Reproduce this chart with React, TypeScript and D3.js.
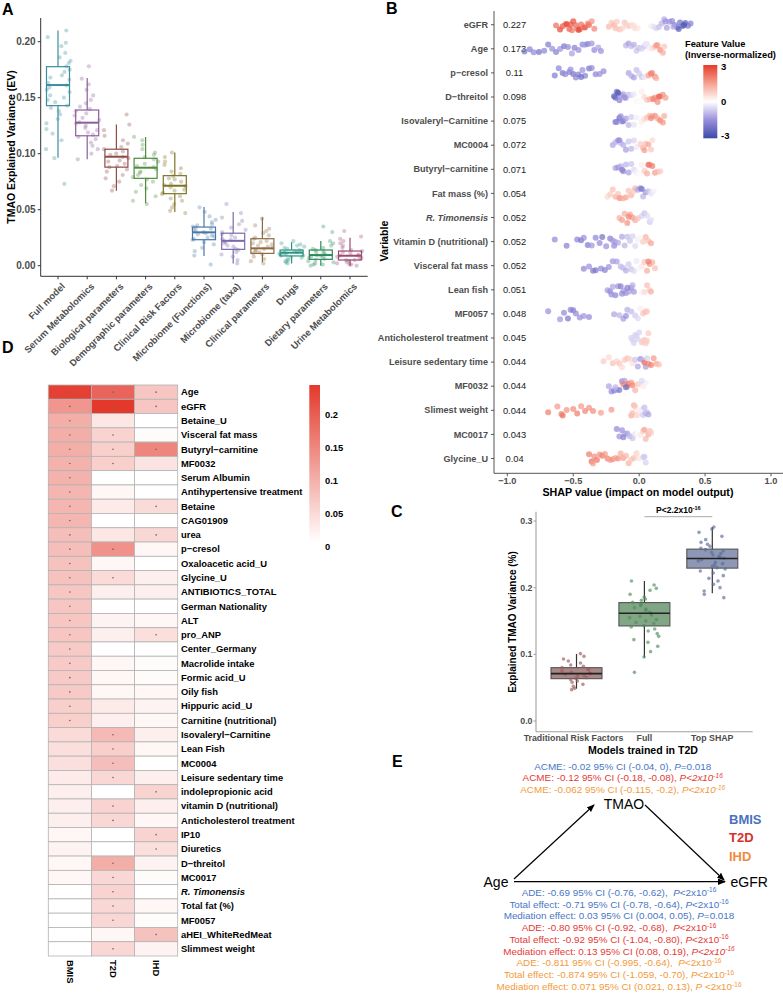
import React from "react";
import * as d3 from "d3";

const FONT = "'Liberation Sans', Arial, Helvetica, sans-serif";
const AXIS_TXT = "#4d4d4d";

// ---------------- Panel A data ----------------
const aCategories = ["Full model", "Serum Metabolomics", "Biological parameters", "Demographic parameters", "Clinical Risk Factors", "Microbiome (Functions)", "Microbiome (taxa)", "Clinical parameters", "Drugs", "Dietary parameters", "Urine Metabolomics"];
const aColors = ["#3b8e9c", "#8b5e9b", "#8e4b44", "#4e8c3e", "#7c7424", "#4a78a6", "#7b69ac", "#8d6a40", "#2a9383", "#2b8a5a", "#9b4a73"];
const aQ1 = [0.1429, 0.116, 0.088, 0.078, 0.0643, 0.0232, 0.0146, 0.011, 0.0087, 0.0057, 0.0051];
const aMedian = [0.1613, 0.1277, 0.0973, 0.0875, 0.0714, 0.0298, 0.0222, 0.0155, 0.0116, 0.0095, 0.0089];
const aQ3 = [0.1777, 0.139, 0.104, 0.0959, 0.0804, 0.0345, 0.029, 0.0241, 0.014, 0.014, 0.0131];
const aWhiskerLow = [0.0964, 0.095, 0.067, 0.0557, 0.048, 0.0087, 0.002, 0.003, 0.002, 0.0, 0.0];
const aWhiskerHigh = [0.21, 0.1676, 0.126, 0.115, 0.101, 0.0524, 0.048, 0.0432, 0.021, 0.022, 0.025];
const aTicks = [0, 0.05, 0.1, 0.15, 0.2];
const aPoints: number[][] = [
  [0.21, 0.204, 0.199, 0.196, 0.19, 0.186, 0.183, 0.181, 0.178, 0.175, 0.173, 0.17, 0.168, 0.166, 0.163, 0.161, 0.159, 0.157, 0.155, 0.152, 0.15, 0.148, 0.146, 0.143, 0.141, 0.138, 0.135, 0.131, 0.127, 0.122, 0.118, 0.112, 0.104, 0.096, 0.073],
  [0.178, 0.167, 0.162, 0.157, 0.152, 0.148, 0.145, 0.142, 0.14, 0.138, 0.136, 0.134, 0.132, 0.13, 0.128, 0.127, 0.125, 0.123, 0.121, 0.119, 0.117, 0.115, 0.113, 0.11, 0.107, 0.104, 0.1, 0.095],
  [0.135, 0.126, 0.121, 0.116, 0.112, 0.109, 0.106, 0.104, 0.102, 0.1, 0.099, 0.097, 0.096, 0.094, 0.093, 0.091, 0.089, 0.088, 0.086, 0.084, 0.081, 0.078, 0.075, 0.071, 0.067],
  [0.115, 0.112, 0.108, 0.104, 0.101, 0.099, 0.097, 0.095, 0.093, 0.091, 0.089, 0.088, 0.086, 0.084, 0.083, 0.081, 0.079, 0.077, 0.075, 0.072, 0.069, 0.066, 0.062, 0.058, 0.055],
  [0.101, 0.097, 0.093, 0.09, 0.087, 0.084, 0.082, 0.08, 0.078, 0.077, 0.075, 0.073, 0.072, 0.071, 0.07, 0.068, 0.067, 0.065, 0.064, 0.062, 0.06, 0.058, 0.055, 0.052, 0.049, 0.047],
  [0.052, 0.048, 0.044, 0.041, 0.039, 0.037, 0.036, 0.035, 0.034, 0.033, 0.032, 0.031, 0.03, 0.029, 0.028, 0.027, 0.026, 0.025, 0.024, 0.023, 0.021, 0.019, 0.016, 0.013, 0.009, 0.001],
  [0.055, 0.047, 0.043, 0.04, 0.037, 0.034, 0.032, 0.03, 0.028, 0.027, 0.025, 0.024, 0.023, 0.022, 0.021, 0.02, 0.018, 0.017, 0.015, 0.014, 0.012, 0.01, 0.008, 0.005, 0.002],
  [0.042, 0.036, 0.033, 0.031, 0.029, 0.027, 0.025, 0.024, 0.022, 0.021, 0.02, 0.019, 0.018, 0.017, 0.016, 0.015, 0.014, 0.013, 0.012, 0.011, 0.01, 0.008, 0.006, 0.004, 0.002],
  [0.022, 0.02, 0.019, 0.018, 0.017, 0.016, 0.015, 0.014, 0.013, 0.013, 0.012, 0.012, 0.011, 0.011, 0.01, 0.01, 0.009, 0.009, 0.008, 0.007, 0.006, 0.005, 0.004, 0.003, 0.002],
  [0.035, 0.03, 0.022, 0.02, 0.018, 0.016, 0.015, 0.014, 0.013, 0.012, 0.011, 0.01, 0.009, 0.009, 0.008, 0.008, 0.007, 0.006, 0.005, 0.004, 0.003, 0.002, 0.001, 0.0, 0.001],
  [0.031, 0.026, 0.024, 0.022, 0.02, 0.018, 0.016, 0.014, 0.013, 0.012, 0.011, 0.01, 0.009, 0.009, 0.008, 0.007, 0.006, 0.005, 0.005, 0.004, 0.003, 0.002, 0.001, 0.0, 0.001],
];

// ---------------- Panel B data ----------------
const bFeatures = ["eGFR", "Age", "p\u2212cresol", "D\u2212threitol", "Isovaleryl\u2212Carnitine", "MC0004", "Butyryl\u2212carnitine", "Fat mass (%)", "R. Timonensis", "Vitamin D (nutritional)", "Visceral fat mass", "Lean fish", "MF0057", "Anticholesterol treatment", "Leisure sedentary time", "MF0032", "Slimest weight", "MC0017", "Glycine_U"];
const bImportance = [0.227, 0.173, 0.11, 0.098, 0.075, 0.072, 0.071, 0.054, 0.052, 0.052, 0.052, 0.051, 0.048, 0.045, 0.044, 0.044, 0.044, 0.043, 0.04];
const bTicks = [-1, -0.5, 0, 0.5, 1];
const bColorStops = [-3, -1.5, 0, 1.5, 3];
const bColorRange = ["#3c4aa6", "#9a8fdc", "#ffffff", "#f6a08f", "#e53b2b"];
const bLegendTicks = [3, 0, -3];
// [SHAP value, feature value]
const bShapPoints: number[][][] = [
  [[-0.63, 2.2], [-0.6, 2.8], [-0.58, 2.5], [-0.56, 2.0], [-0.55, 2.9], [-0.53, 2.4], [-0.51, 2.1], [-0.5, 2.7], [-0.48, 2.3], [-0.47, 1.9], [-0.45, 2.5], [-0.44, 2.2], [-0.42, 2.0], [-0.41, 2.6], [-0.39, 1.8], [-0.38, 2.3], [-0.36, 1.7], [-0.34, 1.9], [-0.52, 2.6], [-0.46, 2.8],
   [-0.23, 1.1], [-0.21, 0.9], [-0.19, 1.2], [-0.17, 0.8], [-0.15, 1.0], [-0.13, 0.7], [-0.11, 0.9], [-0.09, 0.6], [-0.07, 0.8], [-0.05, 0.5], [-0.03, 0.6], [-0.01, 0.4], [-0.18, 1.0], [-0.1, 0.7], [-0.04, 0.5],
   [0.09, -0.2], [0.11, -0.4], [0.13, -0.6], [0.15, -0.8], [0.17, -1.0], [0.19, -1.1], [0.21, -1.3], [0.23, -1.4], [0.25, -1.6], [0.27, -1.8], [0.29, -1.9], [0.31, -2.1], [0.33, -2.3], [0.35, -2.4], [0.37, -2.0], [0.39, -1.8], [0.2, -1.5], [0.26, -1.2], [0.3, -2.5], [0.34, -2.7]],
  [[-0.87, -2.0], [-0.83, -1.8], [-0.8, -1.6], [-0.76, -2.1], [-0.72, -1.7], [-0.69, -1.9], [-0.66, -1.5], [-0.63, -1.8], [-0.6, -1.4], [-0.57, -2.0], [-0.54, -1.6], [-0.51, -1.3], [-0.49, -1.8], [-0.46, -1.5], [-0.43, -1.7], [-0.41, -1.3], [-0.39, -1.9], [-0.36, -1.4], [-0.34, -1.6], [-0.31, -1.2], [-0.29, -1.5],
   [-0.1, -1.0], [-0.08, -1.3], [-0.06, -0.9], [-0.04, -1.1], [-0.02, -0.8], [0.0, -0.9], [0.02, -0.6], [0.04, -0.7], [0.06, -0.4], [0.08, -0.2], [0.1, 0.5], [0.12, 1.0], [0.14, 1.4], [0.16, 1.8], [0.18, 1.3], [0.19, 0.9], [0.05, -0.3], [0.13, 1.6]],
  [[-0.64, -1.9], [-0.61, -1.7], [-0.58, -2.0], [-0.56, -1.6], [-0.53, -1.8], [-0.5, -2.1], [-0.48, -1.7], [-0.46, -1.9], [-0.43, -1.5], [-0.41, -1.8], [-0.38, -2.0], [-0.36, -1.6], [-0.33, -1.7], [-0.3, -1.5], [-0.27, -1.6], [-0.52, -1.5], [-0.44, -2.2],
   [-0.08, -1.2], [-0.06, -1.0], [-0.04, -1.3], [-0.02, -0.9], [0.0, -0.7], [0.02, -0.8], [0.04, -0.3], [0.06, 0.4], [0.08, 1.0], [0.1, 1.5], [0.12, 1.8], [0.13, 1.2], [0.07, 1.3], [0.09, 2.0]],
  [[-0.19, -2.6], [-0.18, -2.3], [-0.17, -2.0], [-0.15, -1.8], [-0.14, -1.5], [-0.12, -1.3], [-0.1, -1.1], [-0.08, -0.9], [-0.06, -0.6], [-0.04, -0.3], [-0.02, -0.1], [0.0, 0.1], [0.02, 0.3], [0.04, 0.6], [0.06, 0.9], [0.08, 1.2], [0.1, 1.4], [0.12, 1.6], [0.14, 1.8], [0.16, 2.1], [0.18, 1.7], [0.2, 1.5], [0.15, 2.4], [-0.16, -2.8], [-0.11, -1.6], [0.11, 1.9]],
  [[-0.18, -2.0], [-0.17, -1.7], [-0.15, -2.3], [-0.13, -1.6], [-0.12, -1.9], [-0.1, -1.3], [-0.08, -1.0], [-0.06, -0.7], [-0.04, -0.4], [-0.02, -0.2], [0.0, 0.1], [0.02, 0.3], [0.04, 0.6], [0.06, 0.9], [0.08, 1.2], [0.1, 1.5], [0.12, 1.7], [0.14, 1.4], [0.16, 1.9], [0.18, 1.6], [0.19, 1.3], [0.09, 1.8], [-0.14, -1.5]],
  [[-0.2, -1.2], [-0.18, -1.0], [-0.16, -1.4], [-0.14, -0.9], [-0.12, -1.1], [-0.1, -1.3], [-0.08, -0.8], [-0.06, -1.0], [-0.04, -0.6], [-0.02, -0.3], [0.01, 0.8], [0.03, 1.2], [0.05, 1.0], [0.07, 1.4], [0.09, 0.9], [0.1, 0.6], [-0.15, -1.6], [0.04, 1.5]],
  [[-0.18, -1.2], [-0.16, -1.5], [-0.14, -1.1], [-0.12, -1.6], [-0.1, -1.0], [-0.08, -1.3], [-0.06, -0.8], [-0.04, -0.5], [-0.02, -0.2], [0.0, 0.1], [0.02, 0.3], [0.04, 0.8], [0.06, 1.3], [0.08, 1.7], [0.1, 2.0], [0.12, 1.5], [0.14, 1.1], [0.16, 0.8], [0.07, 2.2], [-0.13, -1.8]],
  [[-0.24, 0.6], [-0.22, 0.8], [-0.2, 1.0], [-0.18, 1.2], [-0.16, 0.9], [-0.14, 1.3], [-0.12, 1.1], [-0.1, 1.4], [-0.08, 1.0], [-0.06, 1.2], [-0.04, 0.8], [-0.03, 1.1], [-0.01, -1.2], [0.01, -1.6], [0.03, -1.0], [0.05, -1.4], [0.07, -0.8], [0.09, -0.4], [0.11, -0.2], [-0.15, 1.5], [0.02, -2.0]],
  [[-0.15, 1.2], [-0.13, 1.5], [-0.11, 1.3], [-0.09, 1.7], [-0.07, 1.4], [-0.05, 1.6], [-0.03, 1.3], [-0.01, 1.0], [0.02, -0.6], [0.04, -0.8], [0.06, -0.5], [0.08, -0.7], [0.09, -0.4], [-0.08, 1.9]],
  [[-0.64, -1.6], [-0.55, -1.8], [-0.47, -1.7], [-0.44, -2.0], [-0.42, -1.5], [-0.39, -1.9], [-0.36, -1.4], [-0.33, -1.7], [-0.3, -1.6], [-0.28, -2.1], [-0.25, -1.5], [-0.22, -1.8], [-0.2, -1.4], [-0.18, -1.3], [-0.16, -1.1], [-0.13, -1.2], [-0.11, -1.0], [-0.09, -0.9], [-0.07, -0.8], [-0.05, -0.6], [-0.03, -0.5], [-0.01, -0.2], [0.01, 0.2], [0.03, 0.8], [0.05, 1.2], [0.07, 1.0], [0.09, 1.4], [-0.19, -1.6]],
  [[-0.42, -1.7], [-0.38, -1.5], [-0.35, -1.9], [-0.33, -2.0], [-0.29, -1.6], [-0.26, -1.8], [-0.23, -1.5], [-0.2, -1.4], [-0.17, -1.3], [-0.14, -1.0], [-0.12, -0.9], [-0.1, -1.1], [-0.08, -0.7], [-0.06, -0.8], [-0.04, -0.5], [-0.02, -0.3], [0.0, -0.1], [0.02, 0.4], [0.04, 0.9], [0.06, 1.3], [0.08, 1.6], [0.1, 1.2], [0.12, 1.0], [0.07, 2.0]],
  [[-0.24, -1.3], [-0.22, -1.6], [-0.2, -1.2], [-0.18, -1.7], [-0.16, -1.4], [-0.14, -1.8], [-0.12, -1.3], [-0.1, -1.5], [-0.08, -1.2], [-0.06, -1.6], [-0.05, -1.1], [-0.04, -1.4], [-0.21, -1.5], [-0.13, -1.6], [0.02, 0.2], [0.04, 0.6], [0.06, 1.0], [0.08, 0.8], [0.09, 1.2], [-0.09, -1.8]],
  [[-0.69, -1.5], [-0.6, -1.4], [-0.57, -1.6], [-0.54, -2.0], [-0.52, -1.7], [-0.5, -1.9], [-0.48, -1.6], [-0.45, -1.5], [-0.42, -1.4], [-0.38, -1.6], [-0.19, -1.2], [-0.15, -1.0], [-0.12, -1.3], [-0.09, -1.1], [-0.06, -0.9], [-0.03, -0.7], [-0.01, -0.5], [0.01, 0.3], [0.03, 0.9], [0.05, 1.2], [0.06, 0.8], [-0.1, -1.5]],
  [[-0.06, -0.6], [-0.05, -0.6], [-0.04, -0.6], [-0.03, -0.6], [-0.02, -0.6], [-0.01, -0.6], [0.0, -0.6], [0.02, 0.8], [0.03, 0.8], [0.04, 0.8], [0.05, 0.8], [0.06, 0.8], [0.07, 0.8]],
  [[-0.27, 0.8], [-0.23, 0.6], [-0.2, 1.0], [-0.17, 0.7], [-0.15, 0.9], [-0.13, 0.6], [-0.11, 0.8], [-0.09, 1.0], [-0.07, 0.7], [-0.05, 0.5], [-0.03, -0.8], [-0.01, -1.2], [0.01, -1.5], [0.03, -1.0], [0.05, -1.3], [0.07, 1.8], [0.09, 2.0], [0.11, 1.6], [0.13, 1.4], [0.15, 1.0], [0.04, 2.2], [0.06, -0.6]],
  [[-0.23, -1.2], [-0.21, -1.5], [-0.19, -1.8], [-0.17, -1.3], [-0.15, -2.0], [-0.13, -1.6], [-0.11, -1.2], [-0.09, 1.8], [-0.08, 2.3], [-0.06, 1.5], [-0.05, 1.9], [-0.03, 1.2], [-0.01, 0.9], [0.01, 0.6], [0.03, 0.3], [0.05, -0.2], [-0.12, 2.0], [-0.18, -1.0], [-0.1, -2.2], [0.02, -0.5]],
  [[-0.69, 2.0], [-0.62, 1.6], [-0.59, 1.9], [-0.58, 2.2], [-0.55, 1.7], [-0.5, 1.8], [-0.47, 2.0], [-0.44, 1.6], [-0.41, 1.9], [-0.38, 1.7], [-0.35, 1.8], [-0.29, 1.5], [-0.21, 1.6], [-0.06, 1.3], [-0.05, 1.0], [-0.04, 1.2], [-0.03, 0.9], [-0.02, 0.8], [-0.01, 0.5], [0.0, 0.3], [0.01, 0.1], [0.02, -0.3], [0.03, -0.7], [0.04, -0.9], [0.05, -1.1], [0.06, -0.8], [0.07, -1.2]],
  [[-0.17, -1.6], [-0.15, -1.4], [-0.13, -1.5], [-0.11, -1.2], [-0.09, -1.3], [-0.07, -1.0], [-0.05, -0.8], [-0.03, -0.4], [-0.01, 0.0], [0.01, 0.4], [0.03, 0.8], [0.05, 1.1], [0.07, 1.3], [0.08, 1.0], [0.09, 0.8], [-0.12, -1.8], [0.04, 1.4]],
  [[-0.38, 2.0], [-0.36, 2.3], [-0.34, 1.8], [-0.32, 2.1], [-0.3, 1.7], [-0.28, 2.0], [-0.26, 1.6], [-0.24, 1.9], [-0.22, 1.5], [-0.2, 1.8], [-0.18, 1.4], [-0.16, 1.7], [-0.14, 1.3], [-0.12, 1.5], [-0.1, 1.1], [-0.08, 1.2], [-0.06, 0.9], [-0.04, 1.0], [-0.02, 0.7], [0.0, 0.5], [0.02, 0.2], [0.03, -0.5], [0.04, -0.8], [0.05, -0.6], [-0.35, 1.5]],
];

// ---------------- Panel C data ----------------
const cCategories = ["Traditional Risk Factors", "Full", "Top SHAP"];
const cFill = ["#a98786", "#80a685", "#8e97b4"];
const cPointColor = ["#9e5b5b", "#4f8d59", "#5b6b9b"];
const cQ1 = [0.0635, 0.1426, 0.2293];
const cMedian = [0.071, 0.1617, 0.2437];
const cQ3 = [0.08, 0.1776, 0.2578];
const cWhiskerLow = [0.0485, 0.0956, 0.1917];
const cWhiskerHigh = [0.1006, 0.21, 0.291];
const cTicks = [0, 0.1, 0.2, 0.3];
const cTopShapPoints = [0.291, 0.288, 0.283, 0.277, 0.272, 0.268, 0.265, 0.262, 0.259, 0.257, 0.255, 0.253, 0.251, 0.249, 0.247, 0.245, 0.244, 0.242, 0.24, 0.238, 0.236, 0.234, 0.232, 0.23, 0.228, 0.225, 0.222, 0.218, 0.214, 0.21, 0.205, 0.2, 0.195, 0.19, 0.185];
const cPoints = [aPoints[4], aPoints[0], cTopShapPoints];

// ---------------- Panel D data ----------------
const dRows = ["Age", "eGFR", "Betaine_U", "Visceral fat mass", "Butyryl\u2212carnitine", "MF0032", "Serum Albumin", "Antihypertensive treatment", "Betaine", "CAG01909", "urea", "p\u2212cresol", "Oxaloacetic acid_U", "Glycine_U", "ANTIBIOTICS_TOTAL", "German Nationality", "ALT", "pro_ANP", "Center_Germany", "Macrolide intake", "Formic acid_U", "Oily fish", "Hippuric acid_U", "Carnitine (nutritional)", "Isovaleryl\u2212Carnitine", "Lean Fish", "MC0004", "Leisure sedentary time", "indolepropionic acid", "vitamin D (nutritional)", "Anticholesterol treatment", "IP10", "Diuretics", "D\u2212threitol", "MC0017", "R. Timonensis", "Total fat (%)", "MF0057", "aHEI_WhiteRedMeat", "Slimmest weight"];
const dColumns = ["BMIS", "T2D", "IHD"];
const dBMIS = [0.235, 0.13, 0.1, 0.1, 0.1, 0.095, 0.095, 0.09, 0.09, 0.09, 0.08, 0.08, 0.075, 0.075, 0.07, 0.07, 0.07, 0.07, 0.065, 0.065, 0.065, 0.065, 0.06, 0.06, 0.045, 0.04, 0.04, 0.025, 0.02, 0.02, 0.02, 0.01, 0.015, 0.01, 0.01, 0.0, 0.0, 0.0, 0.0, 0.0];
const dT2D = [0.19, 0.245, 0.03, 0.055, 0.06, 0.06, 0.0, 0.01, 0.025, 0.0, 0.03, 0.135, 0.01, 0.045, 0.02, 0.0, 0.015, 0.02, 0.0, 0.01, 0.01, 0.01, 0.025, 0.02, 0.085, 0.06, 0.08, 0.05, 0.0, 0.055, 0.05, 0.0, 0.0, 0.1, 0.05, 0.055, 0.05, 0.05, 0.01, 0.05];
const dIHD = [0.07, 0.07, 0.0, 0.005, 0.15, 0.035, 0.0, 0.0, 0.045, 0.0, 0.05, 0.01, 0.0, 0.02, 0.02, 0.0, 0.01, 0.04, 0.0, 0.005, 0.005, 0.01, 0.015, 0.01, 0.02, 0.01, 0.0, 0.02, 0.055, 0.02, 0.01, 0.055, 0.04, 0.015, 0.005, 0.0, 0.01, 0.005, 0.075, 0.015];
const dSigBMIS = [1, 1, 1, 1, 1, 1, 1, 1, 1, 1, 1, 1, 1, 1, 1, 1, 1, 1, 1, 1, 1, 1, 1, 1, 0, 0, 0, 0, 0, 0, 0, 0, 0, 0, 0, 0, 0, 0, 0, 0];
const dSigT2D = [1, 1, 0, 1, 1, 1, 0, 0, 0, 0, 0, 1, 0, 1, 0, 0, 0, 0, 0, 0, 0, 0, 0, 0, 1, 1, 1, 1, 0, 1, 1, 0, 0, 1, 1, 1, 1, 1, 0, 1];
const dSigIHD = [1, 1, 0, 0, 1, 0, 0, 0, 1, 0, 1, 0, 0, 0, 0, 0, 0, 1, 0, 0, 0, 0, 0, 0, 0, 0, 0, 0, 1, 0, 0, 1, 1, 0, 0, 0, 0, 0, 1, 0];
const dLegendTicks = [0.2, 0.15, 0.1, 0.05, 0];
const dMax = 0.245;

// ---------------- Panel E data ----------------
type Seg = { t: string; it?: boolean; sup?: boolean };
const eBlue = "#4a76c6";
const eRed = "#e53935";
const eOrange = "#f39a3c";
const eAcmeLines: { c: string; s: Seg[] }[] = [
  { c: eBlue, s: [{ t: "ACME: -0.02 95% CI (-0.04, 0), " }, { t: "P", it: true }, { t: "=0.018" }] },
  { c: eRed, s: [{ t: "ACME: -0.12 95% CI (-0.18, -0.08), " }, { t: "P<2x10", it: true }, { t: "-16", it: true, sup: true }] },
  { c: eOrange, s: [{ t: "ACME: -0.062 95% CI (-0.115, -0.2), " }, { t: "P<2x10", it: true }, { t: "-16", it: true, sup: true }] },
];
const eEffectLines: { c: string; s: Seg[] }[] = [
  { c: eBlue, s: [{ t: "ADE: -0.69 95% CI (-0.76, -0.62),  " }, { t: "P", it: true }, { t: "<2x10" }, { t: "-16", sup: true }] },
  { c: eBlue, s: [{ t: "Total effect: -0.71 95% CI (-0.78, -0.64), " }, { t: "P", it: true }, { t: "<2x10" }, { t: "-16", sup: true }] },
  { c: eBlue, s: [{ t: "Mediation effect: 0.03 95% CI (0.004, 0.05), " }, { t: "P", it: true }, { t: "=0.018" }] },
  { c: eRed, s: [{ t: "ADE: -0.80 95% CI (-0.92, -0.68),  " }, { t: "P", it: true }, { t: "<2x10" }, { t: "-16", sup: true }] },
  { c: eRed, s: [{ t: "Total effect: -0.92 95% CI (-1.04, -0.80), " }, { t: "P", it: true }, { t: "<2x10" }, { t: "-16", sup: true }] },
  { c: eRed, s: [{ t: "Mediation effect: 0.13 95% CI (0.08, 0.19), " }, { t: "P<2x10", it: true }, { t: "-16", it: true, sup: true }] },
  { c: eOrange, s: [{ t: "ADE: -0.811 95% CI (-0.995, -0.64),  " }, { t: "P", it: true }, { t: "<2x10" }, { t: "-16", sup: true }] },
  { c: eOrange, s: [{ t: "Total effect: -0.874 95% CI (-1.059, -0.70), " }, { t: "P", it: true }, { t: "<2x10" }, { t: "-16", sup: true }] },
  { c: eOrange, s: [{ t: "Mediation effect: 0.071 95% CI (0.021, 0.13), " }, { t: "P", it: true }, { t: " <2x10" }, { t: "-16", sup: true }] },
];
const eLegend = [
  { t: "BMIS", c: "#4a72c0" },
  { t: "T2D", c: "#d8302b" },
  { t: "IHD", c: "#f28b3a" },
];

// deterministic, well-scrambled jitter offset in [-1, 1]
const jit = (i: number) => {
  const s = Math.sin(i * 127.1 + 311.7) * 43758.5453;
  return (s - Math.floor(s)) * 2 - 1;
};

function PanelA() {
  const x = d3.scalePoint<string>().domain(aCategories).range([58, 350]);
  const y = d3.scaleLinear().domain([0, 0.2]).range([265.7, 41.7]);
  const bw = 23;
  const fmt = d3.format(".2f");
  const axisY = 276.3, axisX = 40.7;
  return (
    <g>
      <text x={2} y={15} fontSize={16} fontWeight="bold">A</text>
      {aCategories.map((c, g) =>
        aPoints[g].map((v, i) => (
          <circle key={c + i} cx={(x(c) as number) + jit(i + g * 41) * 13} cy={y(v)} r={2.1} fill={aColors[g]} fillOpacity={0.32} />
        ))
      )}
      {aCategories.map((c, g) => {
        const cx = x(c) as number;
        return (
          <g key={c} stroke={aColors[g]} fill="none">
            <line x1={cx} x2={cx} y1={y(aWhiskerHigh[g])} y2={y(aQ3[g])} strokeWidth={1.2} />
            <line x1={cx} x2={cx} y1={y(aQ1[g])} y2={y(aWhiskerLow[g])} strokeWidth={1.2} />
            <rect x={cx - bw / 2} y={y(aQ3[g])} width={bw} height={y(aQ1[g]) - y(aQ3[g])} strokeWidth={1.2} />
            <line x1={cx - bw / 2} x2={cx + bw / 2} y1={y(aMedian[g])} y2={y(aMedian[g])} strokeWidth={2} />
          </g>
        );
      })}
      <line x1={axisX} x2={axisX} y1={18} y2={axisY} stroke="#333" strokeWidth={1} />
      <line x1={axisX} x2={367.7} y1={axisY} y2={axisY} stroke="#333" strokeWidth={1} />
      {aTicks.map((t) => (
        <g key={t}>
          <line x1={axisX - 3} x2={axisX} y1={y(t)} y2={y(t)} stroke="#333" />
          <text x={axisX - 5} y={y(t)} dy="0.35em" textAnchor="end" fontSize={10} fontWeight="bold" fill={AXIS_TXT}>{fmt(t)}</text>
        </g>
      ))}
      {aCategories.map((c) => {
        const cx = x(c) as number;
        return (
          <g key={"t" + c}>
            <line x1={cx} x2={cx} y1={axisY} y2={axisY + 3} stroke="#333" />
            <text transform={`translate(${cx + 3},${axisY + 6}) rotate(-45)`} textAnchor="end" dy="0.7em" fontSize={9.4} fontWeight="bold" fill={AXIS_TXT}>{c}</text>
          </g>
        );
      })}
      <text transform={`translate(11,147) rotate(-90)`} textAnchor="middle" fontSize={10.5} fontWeight="bold" fill="#000" dy="0.35em">TMAO Explained Variance (EV)</text>
    </g>
  );
}

function PanelB() {
  const x = d3.scaleLinear().domain([-1, 1]).range([507.3, 771]);
  const y = d3.scalePoint<string>().domain(bFeatures).range([24.7, 458.5]);
  const color = d3.scaleLinear<string>().domain(bColorStops).range(bColorRange).clamp(true);
  const axisX = 494, axisY = 473.3;
  const legY = d3.scaleLinear().domain([-3, 3]).range([136, 66.7]);
  const fmt = d3.format(".1f");
  return (
    <g>
      <text x={386} y={14} fontSize={16} fontWeight="bold">B</text>
      <defs>
        <linearGradient id="gradB" x1="0" y1="1" x2="0" y2="0">
          {bColorStops.map((s, i) => (
            <stop key={s} offset={(s + 3) / 6} stopColor={bColorRange[i]} />
          ))}
        </linearGradient>
      </defs>
      {bFeatures.map((f, r) => (
        <g key={f}>
          <text x={x(-0.945)} y={y(f)} dy="0.35em" textAnchor="middle" fontSize={9.3} fill="#1a1a1a">{String(bImportance[r])}</text>
          {bShapPoints[r].map((p, i) => (
            <circle key={i} cx={x(p[0])} cy={(y(f) as number) + jit(i * 13 + r * 97 + 5) * 5.5} r={3} fill={color(p[1])} fillOpacity={0.72} />
          ))}
        </g>
      ))}
      <line x1={axisX} x2={axisX} y1={11} y2={axisY} stroke="#555" strokeWidth={1} />
      <line x1={axisX} x2={783} y1={axisY} y2={axisY} stroke="#555" strokeWidth={1} />
      {bFeatures.map((f) => (
        <g key={"l" + f}>
          <line x1={axisX - 3} x2={axisX} y1={y(f)} y2={y(f)} stroke="#555" />
          <text x={axisX - 6} y={y(f)} dy="0.35em" textAnchor="end" fontSize={9.1} fontWeight="bold" fill={AXIS_TXT} fontStyle={f === "R. Timonensis" ? "italic" : "normal"}>{f}</text>
        </g>
      ))}
      {bTicks.map((t) => (
        <g key={t}>
          <line x1={x(t)} x2={x(t)} y1={axisY} y2={axisY + 3} stroke="#555" />
          <text x={x(t)} y={axisY + 11} textAnchor="middle" fontSize={9.2} fontWeight="bold" fill={AXIS_TXT}>{fmt(t)}</text>
        </g>
      ))}
      <text x={638} y={496} textAnchor="middle" fontSize={10.7} fontWeight="bold">SHAP value (impact on model output)</text>
      <text transform="translate(388,241) rotate(-90)" textAnchor="middle" fontSize={10.7} fontWeight="bold">Variable</text>
      <text x={685} y={47} fontSize={9.3} fontWeight="bold">Feature Value</text>
      <text x={685} y={58} fontSize={9.3} fontWeight="bold">(Inverse-normalized)</text>
      <rect x={703.3} y={65} width={14} height={73.3} fill="url(#gradB)" />
      {bLegendTicks.map((t) => (
        <text key={t} x={721} y={legY(t)} dy="0.35em" fontSize={9.5} fontWeight="bold">{String(t)}</text>
      ))}
    </g>
  );
}

function PanelC() {
  const x = d3.scalePoint<string>().domain(cCategories).range([576.5, 712.3]);
  const y = d3.scaleLinear().domain([0, 0.3]).range([721, 521]);
  const bw = 51;
  const axisX = 536, axisY = 731.7;
  const fmt = d3.format(".1f");
  return (
    <g>
      <text x={391} y={517} fontSize={16} fontWeight="bold">C</text>
      {cCategories.map((c, g) => {
        const cx = x(c) as number;
        return (
          <g key={c}>
            <line x1={cx} x2={cx} y1={y(cWhiskerHigh[g])} y2={y(cWhiskerLow[g])} stroke="#333" strokeWidth={1.2} />
            <rect x={cx - bw / 2} y={y(cQ3[g])} width={bw} height={y(cQ1[g]) - y(cQ3[g])} fill={cFill[g]} stroke="#555" strokeWidth={1.1} />
            {cPoints[g].map((v, i) => (
              <circle key={i} cx={cx + jit(i * 7 + g * 53 + 3) * 15} cy={y(v)} r={1.8} fill={cPointColor[g]} fillOpacity={0.65} />
            ))}
            <line x1={cx - bw / 2} x2={cx + bw / 2} y1={y(cMedian[g])} y2={y(cMedian[g])} stroke="#222" strokeWidth={1.6} />
          </g>
        );
      })}
      <line x1={axisX} x2={axisX} y1={511.7} y2={axisY} stroke="#a0a0a0" strokeWidth={1.1} />
      <line x1={axisX} x2={752.7} y1={axisY} y2={axisY} stroke="#a0a0a0" strokeWidth={1.1} />
      {cTicks.map((t) => (
        <g key={t}>
          <line x1={axisX - 2.5} x2={axisX} y1={y(t)} y2={y(t)} stroke="#a0a0a0" />
          <text x={axisX - 3.5} y={y(t)} dy="0.35em" textAnchor="end" fontSize={8.8} fontWeight="bold" fill={AXIS_TXT}>{fmt(t)}</text>
        </g>
      ))}
      {cCategories.map((c) => (
        <text key={"l" + c} x={(x(c) as number) - (c === "Traditional Risk Factors" ? 3 : 0)} y={740.5} textAnchor="middle" fontSize={8.8} fontWeight="bold" fill={AXIS_TXT}>{c}</text>
      ))}
      <text x={643} y={753.5} textAnchor="middle" fontSize={10.6} fontWeight="bold">Models trained in T2D</text>
      <text transform="translate(516,622) rotate(-90)" textAnchor="middle" fontSize={10} fontWeight="bold">Explained TMAO Variance (%)</text>
      <line x1={x("Full")} x2={x("Top SHAP")} y1={516.7} y2={516.7} stroke="#aaa" strokeWidth={1} />
      <text x={((x("Full") as number) + (x("Top SHAP") as number)) / 2} y={513} textAnchor="middle" fontSize={8.5} fontWeight="bold">
        P&lt;2.2x10<tspan fontSize={5.5} dy={-3.5}>-16</tspan>
      </text>
    </g>
  );
}

function PanelD() {
  const x = d3.scaleBand<string>().domain(dColumns).range([48.3, 177.7]);
  const y = d3.scaleBand<string>().domain(dRows).range([385, 956]);
  const color = d3.scaleLinear<string>().domain([0, dMax]).range(["#ffffff", "#e3392b"]);
  const legY = d3.scaleLinear().domain([0, dMax]).range([546.3, 385]);
  const vals = [dBMIS, dT2D, dIHD];
  const sigs = [dSigBMIS, dSigT2D, dSigIHD];
  return (
    <g>
      <text x={2} y={353} fontSize={16} fontWeight="bold">D</text>
      <defs>
        <linearGradient id="gradD" x1="0" y1="1" x2="0" y2="0">
          <stop offset="0" stopColor={color(0)} />
          <stop offset="1" stopColor={color(dMax)} />
        </linearGradient>
      </defs>
      {dColumns.map((c, ci) =>
        dRows.map((r, ri) => (
          <g key={c + r}>
            <rect x={x(c)} y={y(r)} width={x.bandwidth()} height={y.bandwidth()} fill={color(vals[ci][ri])} stroke="#b3b3b3" strokeWidth={0.8} />
            {sigs[ci][ri] ? <circle cx={(x(c) as number) + x.bandwidth() / 2} cy={(y(r) as number) + y.bandwidth() / 2} r={0.8} fill="#666" /> : null}
          </g>
        ))
      )}
      {dRows.map((r) => (
        <text key={"l" + r} x={181} y={(y(r) as number) + y.bandwidth() / 2} dy="0.35em" fontSize={9.4} fontWeight="bold" fontStyle={r === "R. Timonensis" ? "italic" : "normal"}>{r}</text>
      ))}
      {dColumns.map((c) => (
        <text key={"c" + c} transform={`translate(${(x(c) as number) + x.bandwidth() / 2},960) rotate(90)`} dy="0.35em" fontSize={9.4} fontWeight="bold">{c}</text>
      ))}
      <rect x={309.3} y={385} width={10.7} height={158} fill="url(#gradD)" />
      {dLegendTicks.map((t) => (
        <text key={t} x={325} y={legY(t)} dy="0.35em" fontSize={9.4} fontWeight="bold">{String(t)}</text>
      ))}
    </g>
  );
}

function Line({ segs, x, y, color }: { segs: Seg[]; x: number; y: number; color: string }) {
  return (
    <text x={x} y={y} textAnchor="middle" fontSize={9.9} fill={color} xmlSpace="preserve">
      {segs.map((s, i) => (
        <tspan key={i} fontStyle={s.it ? "italic" : "normal"} fontSize={s.sup ? 6.5 : undefined} dy={s.sup ? -3.5 : undefined}>{s.t}</tspan>
      ))}
    </text>
  );
}

function PanelE() {
  const acmeY = d3.scalePoint<number>().domain([0, 1, 2]).range([769.5, 793]);
  const effY = d3.scalePoint<number>().domain(d3.range(9)).range([895.8, 990]);
  return (
    <g>
      <text x={392} y={767} fontSize={16} fontWeight="bold">E</text>
      <defs>
        <marker id="arrE" markerWidth={8} markerHeight={8} refX={7} refY={4} orient="auto" markerUnits="userSpaceOnUse">
          <path d="M0,0.8 L8,4 L0,7.2 Z" fill="#000" />
        </marker>
      </defs>
      {eAcmeLines.map((l, i) => (
        <Line key={i} segs={l.s} x={622.7} y={acmeY(i) as number} color={l.c} />
      ))}
      <text x={624} y={809} textAnchor="middle" fontSize={14}>TMAO</text>
      <text x={496} y={886.5} textAnchor="middle" fontSize={14}>Age</text>
      <text x={730.5} y={886.5} fontSize={14}>eGFR</text>
      <line x1={514} y1={879} x2={594} y2={805} stroke="#000" strokeWidth={1.2} markerEnd="url(#arrE)" />
      <line x1={645} y1={805} x2={724} y2={880} stroke="#000" strokeWidth={1.2} markerEnd="url(#arrE)" />
      <line x1={514} y1={881.7} x2={725} y2={881.7} stroke="#000" strokeWidth={1.2} markerEnd="url(#arrE)" />
      {eLegend.map((l, i) => (
        <text key={l.t} x={729} y={824 + i * 18.3} fontSize={13} fontWeight="bold" fill={l.c}>{l.t}</text>
      ))}
      {eEffectLines.map((l, i) => (
        <Line key={i} segs={l.s} x={619} y={effY(i) as number} color={l.c} />
      ))}
    </g>
  );
}

export default function App() {
  return (
    <svg width={783} height={993} viewBox="0 0 783 993" style={{ position: "absolute", left: 0, top: 0, display: "block", background: "#fff" }} fontFamily={FONT}>
      <rect x={0} y={0} width={783} height={993} fill="#fff" />
      <PanelA />
      <PanelB />
      <PanelC />
      <PanelD />
      <PanelE />
    </svg>
  );
}
